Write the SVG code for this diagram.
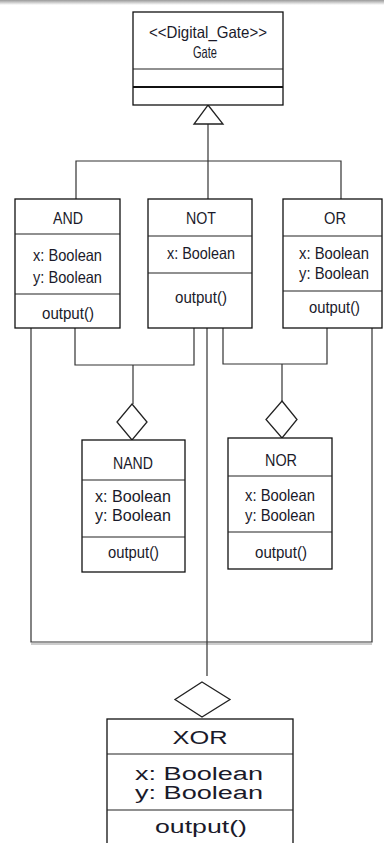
<svg xmlns="http://www.w3.org/2000/svg" width="384" height="843" viewBox="0 0 384 843">
<defs>
<linearGradient id="topbar" x1="0" y1="0" x2="0" y2="1">
<stop offset="0" stop-color="#9a9a9a"/>
<stop offset="1" stop-color="#ffffff"/>
</linearGradient>
</defs>
<style>
.box{fill:#fff;stroke:#111;stroke-width:1.3}
.div{stroke:#222;stroke-width:1.2}
.con{fill:none;stroke:#333;stroke-width:1.2}
.t{font-family:"Liberation Sans",Arial,sans-serif;font-size:16.5px;fill:#1a1a2a;text-anchor:middle}
.tb{font-family:"Liberation Sans",Arial,sans-serif;font-size:18px;fill:#1a1a2a;text-anchor:middle}
.head{fill:#fff;stroke:#222;stroke-width:1.3}
</style>
<rect width="384" height="843" fill="#fff"/>
<rect x="0" y="0" width="384" height="5" fill="url(#topbar)"/>

<g id="connectors">
<polyline class="con" points="76,199 76,161 341,161 341,199"/>
<line class="con" x1="208" y1="124" x2="208" y2="199"/>
<polyline class="con" points="75,328 75,365 194,365 194,328"/>
<line class="con" x1="133" y1="365" x2="133" y2="404"/>
<polyline class="con" points="223,328 223,364 327,364 327,328"/>
<line class="con" x1="282" y1="364" x2="282" y2="401"/>
<polyline class="con" points="31,328 31,642 372,642 372,328"/>
<line x1="31" y1="644" x2="372" y2="644" stroke="#bbb" stroke-width="1.5"/>
<line class="con" x1="207" y1="328" x2="207" y2="676"/>
<polygon class="head" points="208,105 223,124 194,124"/>
<polygon class="head" points="132,404 147,422 132,440 117,422"/>
<polygon class="head" points="282,401 297,419.5 282,438 266,419.5"/>
<polygon class="head" points="202,682 230,699.5 202,717 175,699.5"/>
</g>

<g id="Gate">
<rect class="box" x="133" y="12" width="150" height="93"/>
<line class="div" x1="133" y1="69" x2="283" y2="69" stroke="#555"/>
<line x1="133" y1="87" x2="283" y2="87" stroke="#111" stroke-width="2"/>
<text class="t" x="208" y="38" textLength="118" lengthAdjust="spacingAndGlyphs">&lt;&lt;Digital_Gate&gt;&gt;</text>
<text class="t" x="205" y="58" textLength="24" lengthAdjust="spacingAndGlyphs">Gate</text>
</g>

<g id="AND">
<rect class="box" x="15" y="199" width="105" height="129"/>
<line class="div" x1="15" y1="234" x2="120" y2="234"/>
<line class="div" x1="15" y1="294" x2="120" y2="294"/>
<text class="t" x="68" y="224" textLength="30" lengthAdjust="spacingAndGlyphs">AND</text>
<text class="t" x="67.5" y="261" textLength="69" lengthAdjust="spacingAndGlyphs">x: Boolean</text>
<text class="t" x="67.5" y="283" textLength="69" lengthAdjust="spacingAndGlyphs">y: Boolean</text>
<text class="t" x="68" y="319" textLength="52" lengthAdjust="spacingAndGlyphs">output()</text>
</g>

<g id="NOT">
<rect class="box" x="148" y="199" width="104" height="129"/>
<line class="div" x1="148" y1="236" x2="252" y2="236"/>
<line class="div" x1="148" y1="273" x2="252" y2="273"/>
<text class="t" x="201" y="224" textLength="30" lengthAdjust="spacingAndGlyphs">NOT</text>
<text class="t" x="201" y="259" textLength="68" lengthAdjust="spacingAndGlyphs">x: Boolean</text>
<text class="t" x="201" y="303" textLength="52" lengthAdjust="spacingAndGlyphs">output()</text>
</g>

<g id="OR">
<rect class="box" x="283" y="199" width="99" height="129"/>
<line class="div" x1="283" y1="236" x2="382" y2="236"/>
<line class="div" x1="283" y1="291" x2="382" y2="291"/>
<text class="t" x="335" y="224" textLength="22" lengthAdjust="spacingAndGlyphs">OR</text>
<text class="t" x="334" y="259" textLength="70" lengthAdjust="spacingAndGlyphs">x: Boolean</text>
<text class="t" x="334" y="279" textLength="70" lengthAdjust="spacingAndGlyphs">y: Boolean</text>
<text class="t" x="334.5" y="313" textLength="51" lengthAdjust="spacingAndGlyphs">output()</text>
</g>

<g id="NAND">
<rect class="box" x="82" y="440" width="103" height="132"/>
<line class="div" x1="82" y1="480" x2="185" y2="480"/>
<line class="div" x1="82" y1="537" x2="185" y2="537"/>
<text class="t" x="133" y="469" textLength="40" lengthAdjust="spacingAndGlyphs">NAND</text>
<text class="t" x="133" y="502" textLength="76" lengthAdjust="spacingAndGlyphs">x: Boolean</text>
<text class="t" x="133" y="521" textLength="76" lengthAdjust="spacingAndGlyphs">y: Boolean</text>
<text class="t" x="133.5" y="558" textLength="51" lengthAdjust="spacingAndGlyphs">output()</text>
</g>

<g id="NOR">
<rect class="box" x="228" y="438" width="104" height="131"/>
<line class="div" x1="228" y1="476" x2="332" y2="476"/>
<line class="div" x1="228" y1="532" x2="332" y2="532"/>
<text class="t" x="281" y="466" textLength="32" lengthAdjust="spacingAndGlyphs">NOR</text>
<text class="t" x="280" y="501" textLength="70" lengthAdjust="spacingAndGlyphs">x: Boolean</text>
<text class="t" x="280" y="521" textLength="70" lengthAdjust="spacingAndGlyphs">y: Boolean</text>
<text class="t" x="281" y="558" textLength="52" lengthAdjust="spacingAndGlyphs">output()</text>
</g>

<g id="XOR">
<rect class="box" x="107" y="719" width="186" height="130"/>
<line class="div" x1="107" y1="754" x2="293" y2="754"/>
<line class="div" x1="107" y1="810" x2="293" y2="810"/>
<text class="tb" x="200" y="744" textLength="55" lengthAdjust="spacingAndGlyphs">XOR</text>
<text class="tb" x="199" y="780" textLength="128" lengthAdjust="spacingAndGlyphs">x: Boolean</text>
<text class="tb" x="199" y="799" textLength="128" lengthAdjust="spacingAndGlyphs">y: Boolean</text>
<text class="tb" x="201" y="833" textLength="92" lengthAdjust="spacingAndGlyphs">output()</text>
</g>
</svg>
